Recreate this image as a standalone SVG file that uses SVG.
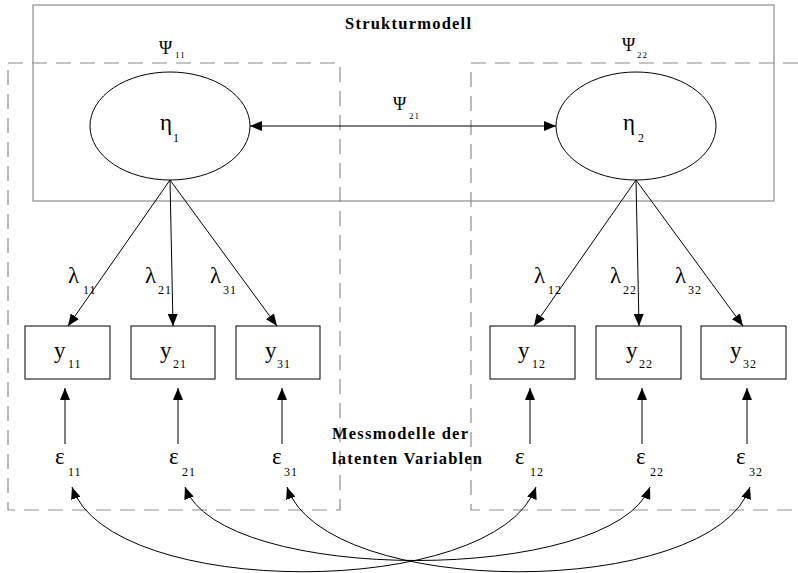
<svg xmlns="http://www.w3.org/2000/svg" width="798" height="573" viewBox="0 0 798 573">
<style>
.frame{fill:none;stroke:#8c8c8c;stroke-width:1.2}
.dash{fill:none;stroke:#8c8c8c;stroke-width:1.2;stroke-dasharray:15 9}
.node{fill:#fff;stroke:#000;stroke-width:1}
.con{fill:none;stroke:#000;stroke-width:1}
.big{font-family:"Liberation Serif",serif;font-size:23px;fill:#000}
.psi{font-family:"Liberation Serif",serif;font-size:18px;fill:#000}
.sub{font-family:"Liberation Serif",serif;font-size:12px;fill:#000;letter-spacing:1px}
.ssub{font-family:"Liberation Serif",serif;font-size:9px;fill:#000;letter-spacing:1px}
.title{font-family:"Liberation Serif",serif;font-size:16.5px;font-weight:bold;fill:#000}
</style>
<defs>
<marker id="arr" markerUnits="userSpaceOnUse" markerWidth="12" markerHeight="10" refX="12" refY="5" orient="auto-start-reverse">
<path d="M0,0 L12,5 L0,10 z" fill="#000"/>
</marker>
</defs>
<rect width="798" height="573" fill="#fff"/>
<g id="frames">
<rect class="frame" x="33" y="5" width="741" height="196"/>
<rect class="dash" x="8" y="63" width="332" height="447"/>
<path class="dash" d="M798 63 H471 V510 H798"/>
<text class="title" x="345" y="29" textLength="126" lengthAdjust="spacing">Strukturmodell</text>
<text class="title" x="332" y="439" textLength="136" lengthAdjust="spacing">Messmodelle der</text>
<text class="title" x="332" y="464" textLength="150" lengthAdjust="spacing">latenten Variablen</text>
</g>
<g id="connectors">
<line class="con" x1="250" y1="126" x2="556" y2="126" marker-start="url(#arr)" marker-end="url(#arr)"/>
<line class="con" x1="170" y1="180" x2="68" y2="326" marker-end="url(#arr)"/>
<line class="con" x1="170" y1="180" x2="173" y2="326" marker-end="url(#arr)"/>
<line class="con" x1="170" y1="180" x2="277" y2="326" marker-end="url(#arr)"/>
<line class="con" x1="636" y1="180" x2="534" y2="326" marker-end="url(#arr)"/>
<line class="con" x1="636" y1="180" x2="639" y2="326" marker-end="url(#arr)"/>
<line class="con" x1="636" y1="180" x2="743" y2="326" marker-end="url(#arr)"/>
<line class="con" x1="65" y1="444" x2="65" y2="388" marker-end="url(#arr)"/>
<line class="con" x1="178" y1="444" x2="178" y2="388" marker-end="url(#arr)"/>
<line class="con" x1="282" y1="444" x2="282" y2="388" marker-end="url(#arr)"/>
<line class="con" x1="530" y1="444" x2="530" y2="388" marker-end="url(#arr)"/>
<line class="con" x1="642" y1="444" x2="642" y2="388" marker-end="url(#arr)"/>
<line class="con" x1="747" y1="444" x2="747" y2="388" marker-end="url(#arr)"/>
<path class="con" d="M72 487 C110 600, 495 600, 536 487" marker-start="url(#arr)" marker-end="url(#arr)"/>
<path class="con" d="M185 487 C220 585, 612 585, 650 487" marker-start="url(#arr)" marker-end="url(#arr)"/>
<path class="con" d="M287 487 C325 600, 712 600, 750 487" marker-start="url(#arr)" marker-end="url(#arr)"/>
<text class="psi" x="393" y="110">Ψ</text><text class="ssub" x="409" y="119">21</text>
<text class="big" x="68" y="283">λ</text><text class="sub" x="83" y="294">11</text>
<text class="big" x="145" y="283">λ</text><text class="sub" x="158" y="294">21</text>
<text class="big" x="210" y="283">λ</text><text class="sub" x="223" y="294">31</text>
<text class="big" x="534" y="283">λ</text><text class="sub" x="548" y="294">12</text>
<text class="big" x="610" y="283">λ</text><text class="sub" x="623" y="294">22</text>
<text class="big" x="675" y="283">λ</text><text class="sub" x="688" y="294">32</text>
</g>
<g id="eta1">
<ellipse class="node" cx="170" cy="126" rx="80" ry="54"/>
<text class="big" x="160" y="130">η</text><text class="sub" x="173" y="142">1</text>
<text class="psi" x="159" y="54">Ψ</text><text class="ssub" x="175" y="58">11</text>
</g>
<g id="eta2">
<ellipse class="node" cx="636" cy="126" rx="80" ry="54"/>
<text class="big" x="623" y="130">η</text><text class="sub" x="638" y="142">2</text>
<text class="psi" x="622" y="51">Ψ</text><text class="ssub" x="637" y="58">22</text>
</g>
<g id="y11"><rect class="node" x="25" y="326" width="85" height="53"/><text class="big" x="54" y="358">y</text><text class="sub" x="68" y="368">11</text></g>
<g id="y21"><rect class="node" x="131" y="326" width="84" height="53"/><text class="big" x="160" y="358">y</text><text class="sub" x="173" y="368">21</text></g>
<g id="y31"><rect class="node" x="236" y="326" width="84" height="53"/><text class="big" x="265" y="358">y</text><text class="sub" x="277" y="368">31</text></g>
<g id="y12"><rect class="node" x="490" y="326" width="85" height="53"/><text class="big" x="518" y="358">y</text><text class="sub" x="532" y="368">12</text></g>
<g id="y22"><rect class="node" x="596" y="326" width="85" height="53"/><text class="big" x="626" y="358">y</text><text class="sub" x="639" y="368">22</text></g>
<g id="y32"><rect class="node" x="701" y="326" width="85" height="53"/><text class="big" x="730" y="358">y</text><text class="sub" x="743" y="368">32</text></g>
<g id="e11"><text class="big" x="55" y="464">ε</text><text class="sub" x="68" y="476">11</text></g>
<g id="e21"><text class="big" x="169" y="464">ε</text><text class="sub" x="182" y="476">21</text></g>
<g id="e31"><text class="big" x="272" y="464">ε</text><text class="sub" x="284" y="476">31</text></g>
<g id="e12"><text class="big" x="515" y="464">ε</text><text class="sub" x="530" y="476">12</text></g>
<g id="e22"><text class="big" x="636" y="464">ε</text><text class="sub" x="650" y="476">22</text></g>
<g id="e32"><text class="big" x="736" y="464">ε</text><text class="sub" x="749" y="476">32</text></g>
</svg>
